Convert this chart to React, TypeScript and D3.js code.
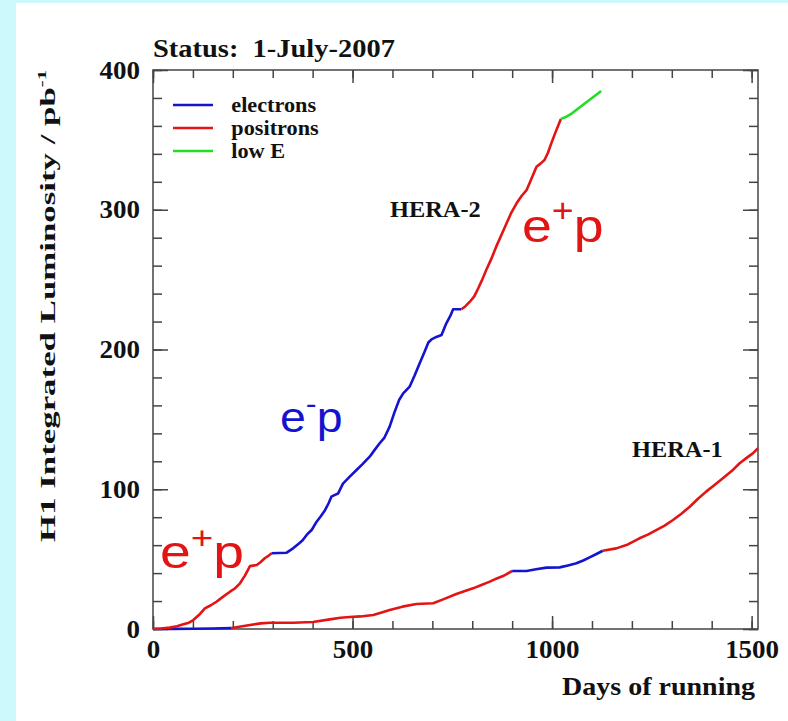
import { useEffect, useRef } from "react";
import * as d3 from "d3";

type Pt = [number, number]; // [days of running, integrated luminosity pb^-1]

// HERA-2 running (upper curve)
const hera2PositronsA: Pt[] = [
  [0, 0], [20, 0.3], [42, 1], [60, 2], [76, 3.4], [90, 4.5], [101, 6.4], [115, 10],
  [130, 14.8], [145, 17], [159, 19.5], [175, 23], [193, 26.7], [205, 29], [218, 32.7],
  [230, 38], [243, 45], [260, 45.8], [270, 48], [280, 50.6], [290, 52.5], [297, 54.2],
];
const hera2Electrons: Pt[] = [
  [297, 54.2], [315, 54.4], [335, 54.6], [351, 57.7], [365, 61], [375, 63.5], [385, 67.3],
  [398, 71], [410, 76.8], [420, 80.5], [431, 85], [440, 90], [447, 94.7], [456, 96],
  [464, 97], [476, 104], [493, 109], [510, 113.8], [525, 118], [543, 123.3], [555, 128],
  [568, 132.9], [580, 137], [593, 144.8], [605, 155], [617, 164], [627, 168.6],
  [643, 173.4], [655, 181], [668, 190], [680, 198], [690, 205], [698, 207.3], [710, 209],
  [723, 210.4], [735, 218.7], [745, 224], [752, 228.8], [773, 228.8],
];
const hera2PositronsB: Pt[] = [
  [773, 228.8], [783, 231], [794, 234.2], [805, 238], [815, 243.8], [825, 250],
  [835, 256.9], [848, 265], [860, 273.6], [873, 282], [886, 290.3], [898, 298],
  [911, 304.6], [924, 310], [936, 314], [948, 322], [961, 330.8], [971, 333], [981, 335.6],
  [990, 341], [998, 347.5], [1008, 355], [1022, 365],
];
const hera2LowE: Pt[] = [
  [1022, 365], [1036, 366.6], [1050, 369], [1077, 375], [1100, 380], [1123, 385],
];

// HERA-1 running (lower curve)
const hera1ElectronsA: Pt[] = [[0, 0], [50, 0.1], [100, 0.2], [150, 0.4], [197, 0.7]];
const hera1PositronsA: Pt[] = [
  [197, 0.7], [220, 1.8], [243, 2.9], [270, 4], [293, 4.5], [320, 4.5], [351, 4.5],
  [401, 5], [443, 6.9], [470, 8], [493, 8.6], [520, 9], [552, 10], [575, 12], [593, 13.6],
  [625, 16], [660, 17.9], [702, 18.4], [727, 21.2], [760, 25], [780, 27], [802, 29.1],
  [823, 31.5], [844, 33.9], [860, 36], [877, 37.9], [900, 41.5],
];
const hera1ElectronsB: Pt[] = [
  [900, 41.5], [936, 41.5], [960, 42.7], [986, 43.9], [1019, 44.1], [1040, 45.5],
  [1061, 47], [1078, 49], [1094, 51.3], [1110, 53.5], [1127, 56],
];
const hera1PositronsB: Pt[] = [
  [1127, 56], [1161, 57.7], [1190, 60.5], [1219, 64.9], [1240, 67.5], [1261, 70.8],
  [1282, 74], [1303, 78], [1324, 82.5], [1345, 87.5], [1365, 93], [1386, 98.3],
  [1407, 103], [1428, 107.8], [1450, 113], [1470, 118.6], [1490, 123], [1503, 125.7],
  [1516, 129.3],
];

const xMajorTicks = [0, 500, 1000, 1500];
const yMajorTicks = [0, 100, 200, 300, 400];
const legendLabels = ["electrons", "positrons", "low E"];

const RED = "#e31414";
const BLUE = "#1414d0";
const GREEN = "#22dd22";

export default function App() {
  const svgRef = useRef<SVGSVGElement>(null);

  useEffect(() => {
    if (!svgRef.current) return;
    const W = 788;
    const H = 721;
    const svg = d3.select(svgRef.current);
    svg.selectAll("*").remove();
    svg.attr("width", W).attr("height", H).attr("viewBox", `0 0 ${W} ${H}`);

    const serif = "'Liberation Serif', 'Times New Roman', serif";
    const sans = "'Liberation Sans', Arial, sans-serif";

    // page background
    svg.append("rect").attr("width", W).attr("height", H).attr("fill", "#cdf8fc");
    svg.append("rect").attr("x", 16).attr("y", 3).attr("width", W - 16).attr("height", H - 3).attr("fill", "#fff");

    const left = 153, right = 758, top = 70, bottom = 629;
    const x = d3.scaleLinear().domain([0, 1516]).range([left, right]);
    const y = d3.scaleLinear().domain([0, 400]).range([bottom, top]);

    const styleAxis = (g: d3.Selection<SVGGElement, unknown, null, undefined>) => {
      g.select(".domain").remove();
      g.selectAll(".tick line").attr("stroke", "#444").attr("stroke-width", 1.5);
      g.selectAll("text")
        .attr("font-family", serif)
        .attr("font-weight", "bold")
        .attr("font-size", 25)
        .attr("fill", "#111")
        .attr("transform", "scale(1.08,1)");
    };
    const minorX = d3.range(0, 1501, 100);
    const minorY = d3.range(0, 401, 20);

    // bottom axis
    svg.append("g").attr("transform", `translate(0,${bottom})`)
      .call(d3.axisBottom(x).tickValues(minorX).tickSize(-8).tickFormat(() => ""))
      .call(styleAxis);
    svg.append("g").attr("transform", `translate(0,${bottom})`)
      .call(d3.axisBottom(x).tickValues(xMajorTicks).tickSize(-13).tickPadding(11).tickFormat(d3.format("d")))
      .call(styleAxis);
    // top axis
    svg.append("g").attr("transform", `translate(0,${top})`)
      .call(d3.axisTop(x).tickValues(minorX).tickSize(-8).tickFormat(() => ""))
      .call(styleAxis);
    svg.append("g").attr("transform", `translate(0,${top})`)
      .call(d3.axisTop(x).tickValues(xMajorTicks).tickSize(-13).tickFormat(() => ""))
      .call(styleAxis);
    // left axis
    svg.append("g").attr("transform", `translate(${left},0)`)
      .call(d3.axisLeft(y).tickValues(minorY).tickSize(-9).tickFormat(() => ""))
      .call(styleAxis);
    svg.append("g").attr("transform", `translate(${left},0)`)
      .call(d3.axisLeft(y).tickValues(yMajorTicks).tickSize(-15).tickPadding(12).tickFormat(d3.format("d")))
      .call(styleAxis);
    // right axis
    svg.append("g").attr("transform", `translate(${right},0)`)
      .call(d3.axisRight(y).tickValues(minorY).tickSize(-9).tickFormat(() => ""))
      .call(styleAxis);
    svg.append("g").attr("transform", `translate(${right},0)`)
      .call(d3.axisRight(y).tickValues(yMajorTicks).tickSize(-15).tickFormat(() => ""))
      .call(styleAxis);

    // frame
    svg.append("rect")
      .attr("x", left).attr("y", top)
      .attr("width", right - left).attr("height", bottom - top)
      .attr("fill", "none").attr("stroke", "#444").attr("stroke-width", 1.5);

    // curves
    const line = d3.line<Pt>().x((d) => x(d[0])).y((d) => y(d[1]));
    const segments: [Pt[], string][] = [
      [hera1ElectronsA, BLUE], [hera1PositronsA, RED], [hera1ElectronsB, BLUE], [hera1PositronsB, RED],
      [hera2PositronsA, RED], [hera2Electrons, BLUE], [hera2PositronsB, RED], [hera2LowE, GREEN],
    ];
    svg.append("g").selectAll("path").data(segments).enter().append("path")
      .attr("d", (d) => line(d[0]))
      .attr("fill", "none")
      .attr("stroke", (d) => d[1])
      .attr("stroke-width", 2.6)
      .attr("stroke-linejoin", "round");

    // stretch helper: scales text along its baseline to a target width
    const stretched = (
      tx: number, ty: number, target: number, rotate: number,
      build: (t: d3.Selection<SVGTextElement, unknown, null, undefined>) => void,
    ) => {
      const t = svg.append("text").attr("transform", `translate(${tx},${ty}) rotate(${rotate})`);
      build(t);
      const w = (t.node() as SVGTextElement).getBBox().width || target;
      t.attr("transform", `translate(${tx},${ty}) rotate(${rotate}) scale(${target / w},1)`);
      return t;
    };

    // title
    stretched(153, 57, 242, 0, (t) =>
      t.attr("font-family", serif).attr("font-weight", "bold").attr("font-size", 26)
        .attr("fill", "#111").style("white-space", "pre").text("Status:  1-July-2007"));

    // x axis label
    stretched(755, 695, 193, 0, (t) =>
      t.attr("font-family", serif).attr("font-weight", "bold").attr("font-size", 26)
        .attr("fill", "#111").attr("text-anchor", "end").text("Days of running"));

    // y axis label
    stretched(55, 306, 472, -90, (t) => {
      t.attr("font-family", serif).attr("font-weight", "bold").attr("font-size", 22)
        .attr("fill", "#111").attr("text-anchor", "middle");
      t.append("tspan").text("H1 Integrated Luminosity / pb");
      t.append("tspan").attr("dy", -9).attr("font-size", 13).text("-1");
    });

    // legend
    const legendColors = [BLUE, RED, GREEN];
    const legend = svg.append("g").attr("transform", "translate(173,105)");
    legend.selectAll("g").data(legendLabels).enter().append("g")
      .attr("transform", (_d, i) => `translate(0,${i * 23})`)
      .each(function (d, i) {
        const g = d3.select(this);
        g.append("line").attr("x1", 0).attr("x2", 40)
          .attr("stroke", legendColors[i]).attr("stroke-width", 2.6);
        g.append("text").attr("x", 55).attr("dy", "0.33em")
          .attr("font-family", serif).attr("font-weight", "bold").attr("font-size", 21)
          .attr("fill", "#111").attr("transform", "scale(1.06,1)").text(d);
      });

    // run labels
    const runLabel = (tx: number, ty: number, s: string) =>
      svg.append("text").attr("transform", `translate(${tx},${ty}) scale(1.06,1)`)
        .attr("font-family", serif).attr("font-weight", "bold").attr("font-size", 23)
        .attr("fill", "#111").text(s);
    runLabel(390, 217, "HERA-2");
    runLabel(632, 457, "HERA-1");

    // lepton beam labels
    const beamLabel = (tx: number, ty: number, sign: string, color: string, size: number, sx: number) => {
      const t = svg.append("text").attr("transform", `translate(${tx},${ty}) scale(${sx},1)`)
        .attr("font-family", sans).attr("font-size", size).attr("fill", color);
      t.append("tspan").text("e");
      t.append("tspan").attr("dy", -size * 0.42).attr("font-size", size * 0.7).text(sign);
      t.append("tspan").attr("dy", size * 0.42).text("p");
    };
    beamLabel(522, 242, "+", RED, 47, 1.14);
    beamLabel(160, 568, "+", RED, 46, 1.2);
    beamLabel(280, 432, "-", BLUE, 43, 1.08);
  }, []);

  return (
    <div style={{ position: "absolute", left: 0, top: 0 }}>
      <svg ref={svgRef} style={{ display: "block" }} />
    </div>
  );
}
